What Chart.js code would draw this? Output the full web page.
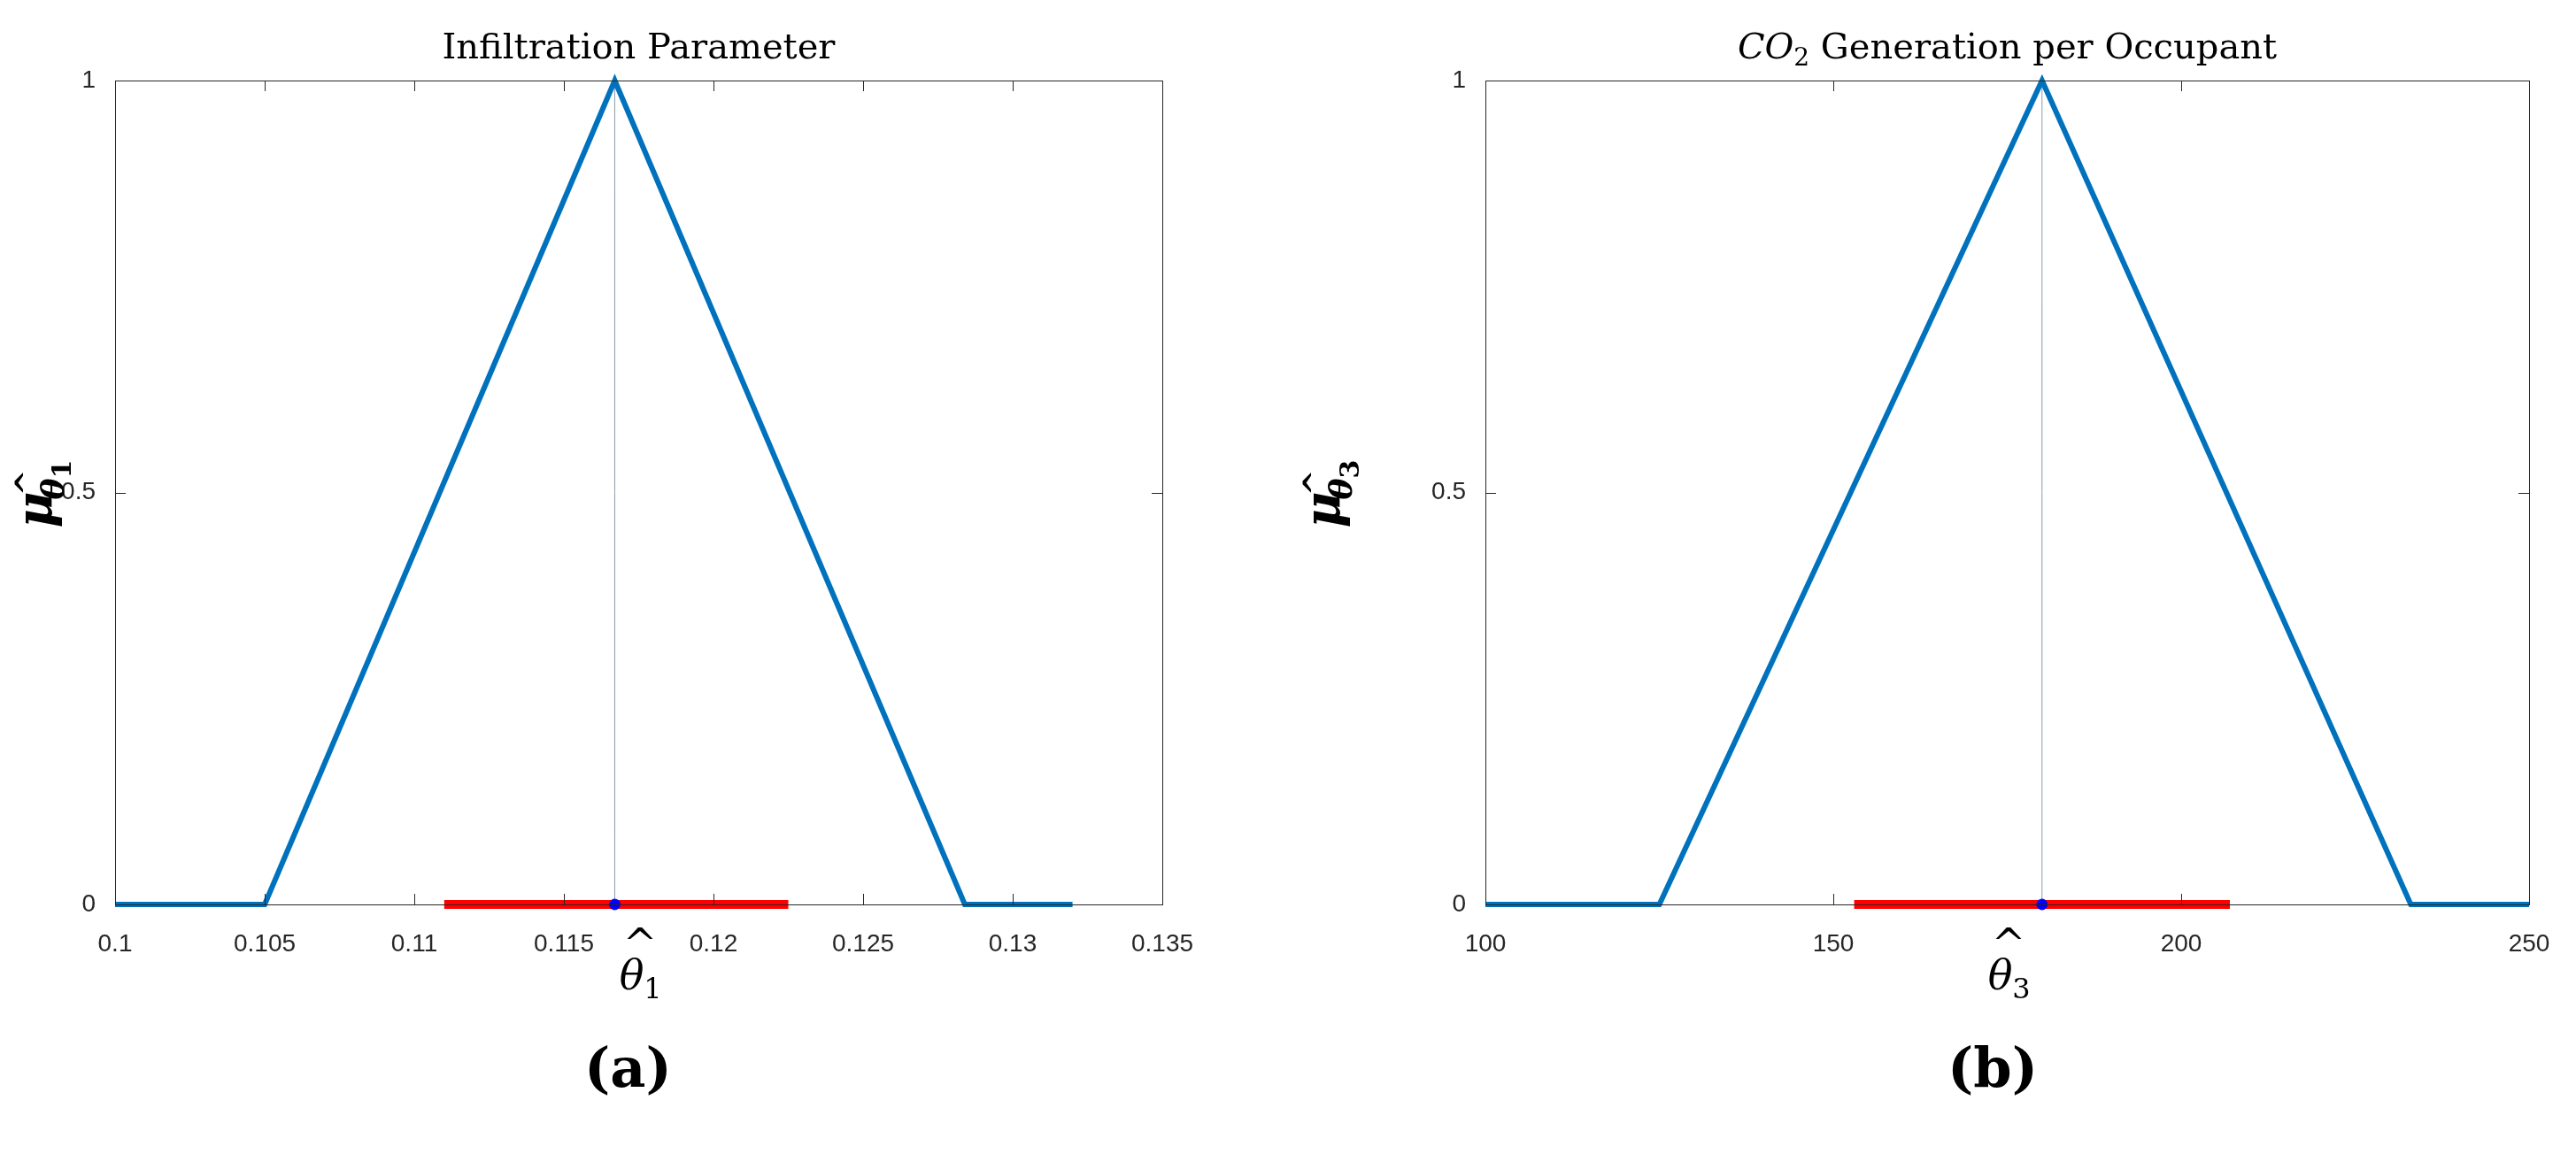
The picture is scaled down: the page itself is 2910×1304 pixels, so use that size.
<!DOCTYPE html>
<html>
<head>
<meta charset="utf-8">
<script src="https://cdn.jsdelivr.net/npm/chart.js@4.4.1/dist/chart.umd.min.js"></script>
<style>
  body { margin: 0; background: #fff; width: 2910px; height: 1304px; overflow: hidden; }
  .panel { position: absolute; top: 0; width: 1455px; height: 1304px; }
  .panel canvas { position: absolute; left: 0; top: 0; }
  .sub { position: absolute; top: 1170px; font: bold 62px "DejaVu Serif", serif; color: #000; }
</style>
</head>
<body>
<div class="panel" style="left:0"><canvas id="chartA" width="1455" height="1150"></canvas><div class="sub" style="left:660px">(a)</div></div>
<div class="panel" style="left:1455px"><canvas id="chartB" width="1455" height="1150"></canvas><div class="sub" style="left:745px">(b)</div></div>
<script>
// Panneau (a) : paramètre d'infiltration
const triX_a = [0.1, 0.105, 0.1167, 0.1284, 0.132];
const triY_a = [0, 0, 1, 0, 0];
const red_a = [0.111, 0.1225];
const centre_a = 0.1167;
const ticksX_a = [0.1, 0.105, 0.11, 0.115, 0.12, 0.125, 0.13, 0.135];

// Panneau (b) : génération de CO2 par occupant
const triX_b = [100, 125, 180, 233, 250];
const triY_b = [0, 0, 1, 0, 0];
const red_b = [153, 207];
const centre_b = 180;
const ticksX_b = [100, 150, 200, 250];

const ticksY = [0, 0.5, 1];

// cadre, ticks intérieurs, titre et étiquettes d'axes façon MATLAB
const matlabPlugin = {
  id: 'matlab',
  afterDraw(chart, args, opts) {
    const c = chart.ctx, a = chart.chartArea;
    const sx = chart.scales.x, sy = chart.scales.y;
    c.save();
    c.strokeStyle = '#262626';
    c.lineWidth = 1;
    c.strokeRect(a.left + 0.5, a.top + 0.5, a.right - a.left, a.bottom - a.top);
    c.beginPath();
    opts.xt.forEach(v => {
      const p = Math.round(sx.getPixelForValue(v)) + 0.5;
      c.moveTo(p, a.bottom); c.lineTo(p, a.bottom - 12);
      c.moveTo(p, a.top); c.lineTo(p, a.top + 12);
    });
    ticksY.forEach(v => {
      const p = Math.round(sy.getPixelForValue(v)) + 0.5;
      c.moveTo(a.left, p); c.lineTo(a.left + 12, p);
      c.moveTo(a.right, p); c.lineTo(a.right - 12, p);
    });
    c.stroke();
    c.fillStyle = '#000';
    c.textBaseline = 'alphabetic';
    // titre
    const parts = opts.title;
    let w = 0;
    parts.forEach(p => { c.font = p.f; w += c.measureText(p.t).width; });
    let x = (a.left + a.right) / 2 - w / 2;
    parts.forEach(p => {
      c.font = p.f;
      c.fillText(p.t, x, 66 + (p.dy || 0));
      x += c.measureText(p.t).width;
    });
    // étiquette x : theta chapeau + indice
    const cx = (a.left + a.right) / 2;
    c.font = 'italic 46px "DejaVu Serif"';
    const tw = c.measureText('θ').width;
    c.fillText('θ', cx - tw / 2 - 8, 1118);
    c.fillText('^', cx - tw / 2 - 4, 1082);
    c.font = '32px "DejaVu Serif"';
    c.fillText(opts.idx, cx + tw / 2 - 8, 1128);
    // étiquette y : mu avec indice theta chapeau
    c.translate(58, (a.top + a.bottom) / 2 + 40);
    c.rotate(-Math.PI / 2);
    c.font = 'italic bold 56px "DejaVu Serif"';
    c.fillText('μ', 0, 0);
    c.font = 'italic bold 36px "DejaVu Serif"';
    c.fillText('θ', 32, 14);
    c.fillText('^', 36, -16);
    c.font = 'bold 30px "DejaVu Serif"';
    c.fillText(opts.idx, 56, 22);
    c.restore();
  }
};

function makeChart(id, triX, triY, red, centre, xt, padL, padR, idx, title) {
  const pts = (xs, ys) => xs.map((v, i) => ({x: v, y: ys[i]}));
  return new Chart(document.getElementById(id), {
    type: 'scatter',
    data: {
      datasets: [
        { data: [{x: centre, y: 0}, {x: centre, y: 1}], showLine: true, borderColor: '#8a9bb0', borderWidth: 1, pointRadius: 0, order: 4 },
        { data: pts(triX, triY), showLine: true, borderColor: '#0072BD', borderWidth: 6, pointRadius: 0, order: 3 },
        { data: [{x: red[0], y: 0}, {x: red[1], y: 0}], showLine: true, borderColor: '#ff0000', borderWidth: 10, pointRadius: 0, borderCapStyle: 'butt', order: 2 },
        { data: [{x: centre, y: 0}], pointRadius: 6, backgroundColor: '#0000ff', borderColor: '#0000ff', order: 1 }
      ]
    },
    options: {
      responsive: false,
      animation: false,
      clip: false,
      layout: { padding: { left: 0, right: padR, top: 91, bottom: 0 } },
      plugins: { legend: { display: false }, tooltip: { enabled: false }, matlab: { xt: xt, title: title, idx: idx } },
      scales: {
        x: {
          type: 'linear', min: xt[0], max: xt[xt.length - 1],
          afterBuildTicks: s => { s.ticks = xt.map(v => ({value: v})); },
          afterFit: s => { s.height = 128; },
          grid: { display: false }, border: { display: false },
          ticks: { color: '#262626', font: { family: 'Liberation Sans', size: 28 }, padding: 20, maxRotation: 0, callback: v => String(+v.toFixed(3)) }
        },
        y: {
          type: 'linear', min: 0, max: 1,
          afterBuildTicks: s => { s.ticks = ticksY.map(v => ({value: v})); },
          afterFit: s => { s.width = padL; },
          grid: { display: false }, border: { display: false },
          ticks: { color: '#262626', font: { family: 'Liberation Sans', size: 28 }, padding: 14, callback: v => String(v) }
        }
      }
    },
    plugins: [matlabPlugin]
  });
}

makeChart('chartA', triX_a, triY_a, red_a, centre_a, ticksX_a, 130, 142, '1',
  [{t: 'Infiltration Parameter', f: '40px "DejaVu Serif"'}]);
makeChart('chartB', triX_b, triY_b, red_b, centre_b, ticksX_b, 223, 53, '3',
  [{t: 'CO', f: 'italic 40px "DejaVu Serif"'}, {t: '2', f: '28px "DejaVu Serif"', dy: 8}, {t: ' Generation per Occupant', f: '40px "DejaVu Serif"'}]);
</script>
</body>
</html>
